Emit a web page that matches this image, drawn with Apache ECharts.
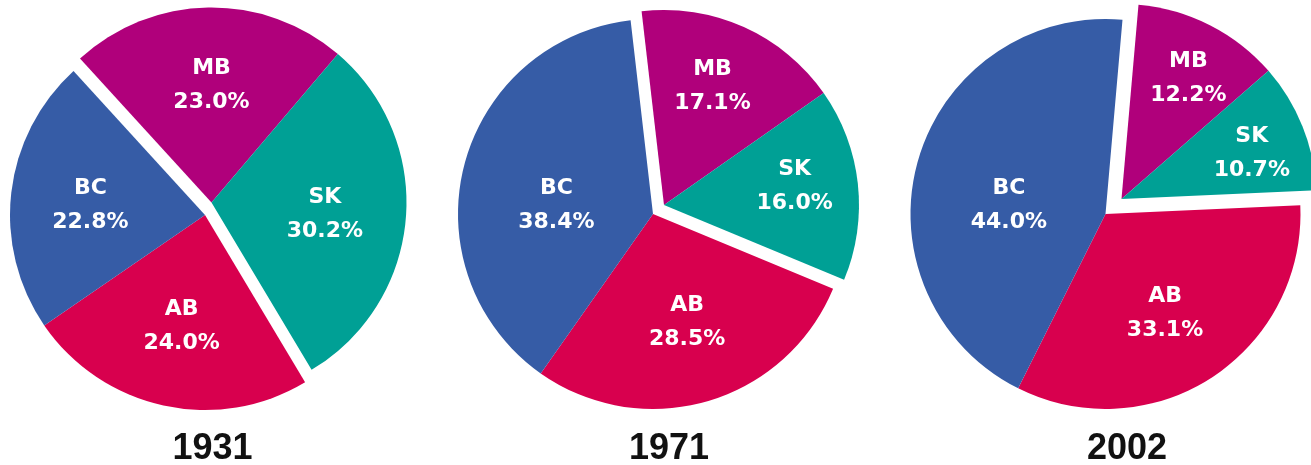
<!DOCTYPE html>
<html>
<head>
<meta charset="utf-8">
<script src="https://cdn.jsdelivr.net/npm/echarts@6/dist/echarts.min.js"></script>
<style>
html,body{margin:0;padding:0;background:#fff;}
#chart{width:1311px;height:465px;}
</style>
</head>
<body>
<div id="chart"></div>
<script>
// ---- data ----
const provinces = ['MB', 'SK', 'AB', 'BC'];
const years = ['1931', '1971', '2002'];
const share1931 = [23.0, 30.2, 24.0, 22.8];
const share1971 = [17.1, 16.0, 28.5, 38.4];
const share2002 = [12.2, 10.7, 33.1, 44.0];
const explodedGroup = ['MB', 'SK'];

// ---- styling / layout ----
const colors = { MB: '#b0007b', SK: '#00a095', AB: '#d8004e', BC: '#365ca6' };
const shares = { '1931': share1931, '1971': share1971, '2002': share2002 };
const layout = {
  '1931': { base: [205, 215], exploded: [211.5, 202.5], start: 132.4, titleX: 207.5 },
  '1971': { base: [653, 214], exploded: [664, 205], start: 96.6, titleX: 664 },
  '2002': { base: [1105.5, 214], exploded: [1121.5, 199], start: 85.0, titleX: 1122 }
};
// label placement: [distance from centre in px, angular nudge from the bisector in degrees]
const labelPlace = {
  '1931': [[117, -1], [114, -1.3], [114, 0.5], [115, 1.8]],
  '1971': [[128, 1.9], [132, 1.9], [114, 1.3], [97, 9]],
  '2002': [[138, -2], [138, -2.6], [116, -2.1], [97, 10.5]]
};
const R = 195;
const CLEAR = 'rgba(0,0,0,0)';

const series = [];
const seriesInfo = [];
years.forEach(y => {
  const L = layout[y];
  [false, true].forEach(isExploded => {
    const inGroup = p => explodedGroup.includes(p) === isExploded;
    const center = isExploded ? L.exploded : L.base;
    seriesInfo.push({ year: y, inGroup: inGroup });
    series.push({
      type: 'pie', center: center, radius: R, startAngle: L.start, clockwise: true,
      silent: true, animation: false, avoidLabelOverlap: false,
      label: { show: false }, labelLine: { show: false },
      emphasis: { disabled: true },
      data: provinces.map((p, i) => ({
        name: p, value: shares[y][i],
        itemStyle: { color: inGroup(p) ? colors[p] : CLEAR, borderWidth: 0 }
      }))
    });
  });
});

const option = {
  backgroundColor: '#fff',
  animation: false,
  title: years.map(y => ({
    text: y, left: layout[y].titleX, top: 426, textAlign: 'center',
    textStyle: { fontFamily: 'Liberation Sans', fontWeight: 'bold', fontSize: 36, color: '#111' }
  })),
  series: series
};

const chart = echarts.init(document.getElementById('chart'), null, { renderer: 'canvas' });
chart.setOption(option);

// slice labels, placed from the pie layout computed by ECharts
const RAD = Math.PI / 180;
const graphics = [];
series.forEach((s, k) => {
  const info = seriesInfo[k];
  let data = null;
  try { data = chart.getModel().getSeriesByIndex(k).getData(); } catch (e) { data = null; }
  // fallback: cumulative angles
  let acc = 0;
  const total = s.data.reduce((a, d) => a + d.value, 0);
  s.data.forEach((d, i) => {
    let cx, cy, mid;
    const lay = data ? data.getItemLayout(i) : null;
    if (lay && isFinite(lay.startAngle)) {
      cx = lay.cx; cy = lay.cy; mid = (lay.startAngle + lay.endAngle) / 2;
    } else {
      cx = s.center[0]; cy = s.center[1];
      const a0 = -s.startAngle * RAD + acc / total * 2 * Math.PI;
      acc += d.value;
      const a1 = -s.startAngle * RAD + acc / total * 2 * Math.PI;
      mid = (a0 + a1) / 2;
    }
    if (!info.inGroup(d.name)) return;
    const place = labelPlace[info.year][i];
    const ang = mid - place[1] * RAD;
    graphics.push({
      type: 'text', silent: true, z: 10,
      x: cx + place[0] * Math.cos(ang),
      y: cy + place[0] * Math.sin(ang),
      style: {
        text: d.name + '\n' + d.value.toFixed(1) + '%',
        fill: '#fff', fontFamily: 'DejaVu Sans', fontWeight: 'bold', fontSize: 22,
        lineHeight: 34, align: 'center', verticalAlign: 'middle',
        textAlign: 'center', textVerticalAlign: 'middle'
      }
    });
  });
});
chart.setOption({ graphic: graphics });
</script>
</body>
</html>
